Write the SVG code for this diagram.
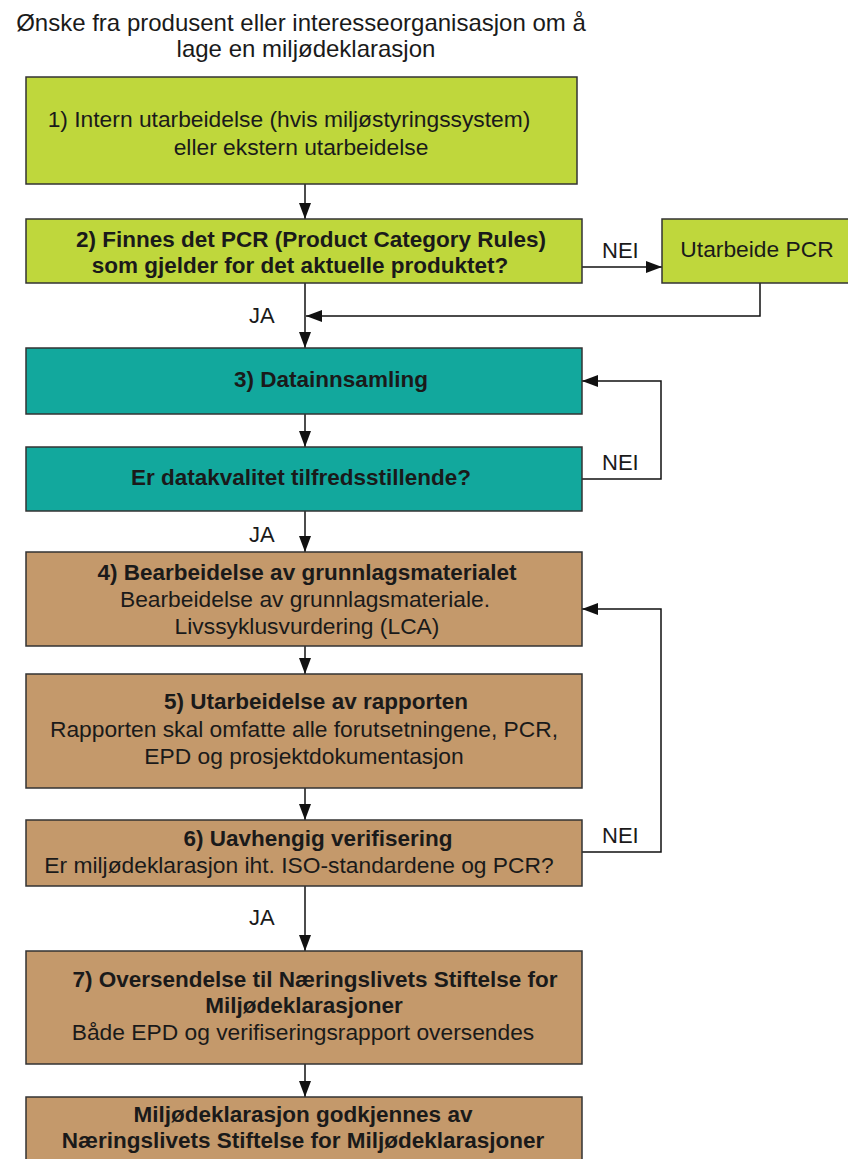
<svg xmlns="http://www.w3.org/2000/svg" width="848" height="1159" viewBox="0 0 848 1159">
<style>
text{font-family:"Liberation Sans",Arial,sans-serif;fill:#1a1a1a;}
.t{font-size:24px;text-anchor:middle;}
.b{font-size:22.5px;text-anchor:middle;font-weight:bold;}
.r{font-size:22.8px;text-anchor:middle;}
.l{font-size:22px;}
.g{fill:#bfd73c;stroke:#333;stroke-width:1.5;}
.c{fill:#12a89d;stroke:#333;stroke-width:1.5;}
.n{fill:#c4996b;stroke:#333;stroke-width:1.5;}
.e{fill:none;stroke:#111;stroke-width:1.5;}
</style>
<defs>
<marker id="ah" viewBox="0 0 16 12" refX="16" refY="6" markerWidth="16" markerHeight="12" markerUnits="userSpaceOnUse" orient="auto">
<path d="M0,0 L16,6 L0,12 z" fill="#111"/>
</marker>
</defs>
<rect width="848" height="1159" fill="#fff"/>
<g id="title">
<text class="t" x="301" y="31">Ønske fra produsent eller interesseorganisasjon om å</text>
<text class="t" x="306" y="57">lage en miljødeklarasjon</text>
</g>
<g id="connectors">
<path class="e" d="M305,184 V219" marker-end="url(#ah)"/>
<path class="e" d="M305,283 V348" marker-end="url(#ah)"/>
<path class="e" d="M582,267 H662" marker-end="url(#ah)"/>
<path class="e" d="M760,283 V316 H306" marker-end="url(#ah)"/>
<path class="e" d="M305,414 V447" marker-end="url(#ah)"/>
<path class="e" d="M582,479 H661 V381 H582" marker-end="url(#ah)"/>
<path class="e" d="M305,511 V552" marker-end="url(#ah)"/>
<path class="e" d="M305,646 V674" marker-end="url(#ah)"/>
<path class="e" d="M305,788 V820" marker-end="url(#ah)"/>
<path class="e" d="M582,852 H661 V609 H582" marker-end="url(#ah)"/>
<path class="e" d="M305,886 V951" marker-end="url(#ah)"/>
<path class="e" d="M305,1064 V1097" marker-end="url(#ah)"/>
<text class="l" x="602" y="258">NEI</text>
<text class="l" x="249" y="323">JA</text>
<text class="l" x="602" y="470">NEI</text>
<text class="l" x="249" y="542">JA</text>
<text class="l" x="602" y="843">NEI</text>
<text class="l" x="249" y="925">JA</text>
</g>
<g id="n1">
<rect class="g" x="26" y="77" width="551" height="107"/>
<text class="r" x="289" y="127">1) Intern utarbeidelse (hvis miljøstyringssystem)</text>
<text class="r" x="301" y="155">eller ekstern utarbeidelse</text>
</g>
<g id="n2">
<rect class="g" x="26" y="219" width="556" height="64"/>
<text class="b" x="311" y="247">2) Finnes det PCR (Product Category Rules)</text>
<text class="b" x="300" y="273">som gjelder for det aktuelle produktet?</text>
</g>
<g id="npcr">
<rect class="g" x="662" y="219" width="200" height="64"/>
<text class="r" x="757" y="257">Utarbeide PCR</text>
</g>
<g id="n3">
<rect class="c" x="26" y="348" width="556" height="66"/>
<text class="b" x="331" y="387">3) Datainnsamling</text>
</g>
<g id="n3b">
<rect class="c" x="26" y="447" width="556" height="64"/>
<text class="b" x="301" y="485">Er datakvalitet tilfredsstillende?</text>
</g>
<g id="n4">
<rect class="n" x="26" y="552" width="556" height="94"/>
<text class="b" x="307" y="580">4) Bearbeidelse av grunnlagsmaterialet</text>
<text class="r" x="305" y="607">Bearbeidelse av grunnlagsmateriale.</text>
<text class="r" x="307" y="634">Livssyklusvurdering (LCA)</text>
</g>
<g id="n5">
<rect class="n" x="26" y="674" width="556" height="114"/>
<text class="b" x="316" y="709">5) Utarbeidelse av rapporten</text>
<text class="r" x="304" y="737">Rapporten skal omfatte alle forutsetningene, PCR,</text>
<text class="r" x="304" y="764">EPD og prosjektdokumentasjon</text>
</g>
<g id="n6">
<rect class="n" x="26" y="820" width="556" height="66"/>
<text class="b" x="318" y="846">6) Uavhengig verifisering</text>
<text class="r" x="299" y="873">Er miljødeklarasjon iht. ISO-standardene og PCR?</text>
</g>
<g id="n7">
<rect class="n" x="26" y="951" width="556" height="113"/>
<text class="b" x="315" y="987">7) Oversendelse til Næringslivets Stiftelse for</text>
<text class="b" x="304" y="1013">Miljødeklarasjoner</text>
<text class="r" x="303" y="1040">Både EPD og verifiseringsrapport oversendes</text>
</g>
<g id="n8">
<rect class="n" x="26" y="1097" width="556" height="80"/>
<text class="b" x="303" y="1122">Miljødeklarasjon godkjennes av</text>
<text class="b" x="303" y="1148">Næringslivets Stiftelse for Miljødeklarasjoner</text>
</g>
</svg>
